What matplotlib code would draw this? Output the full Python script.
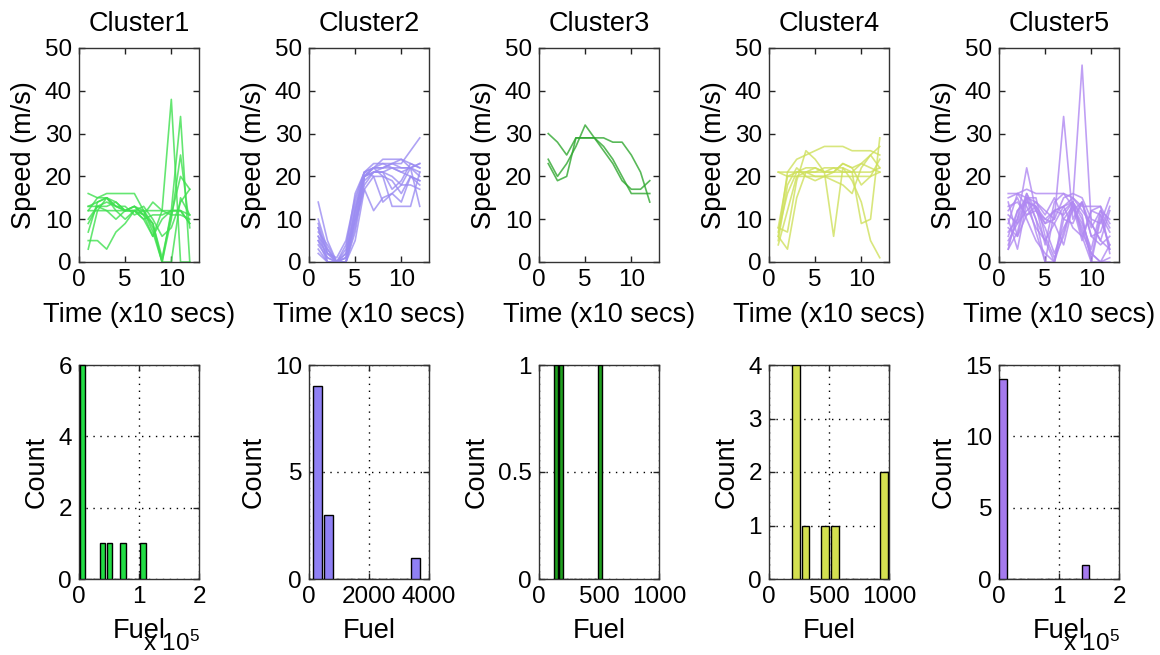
import numpy as np
import matplotlib
matplotlib.use("Agg")
import matplotlib.pyplot as plt
from matplotlib.ticker import FuncFormatter

plt.rcParams['font.family'] = ['Liberation Sans', 'DejaVu Sans']
plt.rcParams['mathtext.fontset'] = 'custom'
plt.rcParams['mathtext.rm'] = 'Liberation Sans'
plt.rcParams['mathtext.it'] = 'Liberation Sans'
plt.rcParams['mathtext.bf'] = 'Liberation Sans'

# ---------------- data ----------------
time = [1, 2, 3, 4, 5, 6, 7, 8, 9, 10, 11, 12]
cluster_names = ["Cluster1", "Cluster2", "Cluster3", "Cluster4", "Cluster5"]

speed_c1 = [
    [13, 14, 15, 13, 12, 13, 11, 6, 12, 38, 0, 0],
    [12, 15, 15, 14, 12, 12, 11, 9, 0, 12, 34, 0],
    [9, 13, 14, 13, 12, 13, 12, 7, 0, 10, 25, 8],
    [16, 15, 16, 16, 16, 16, 12, 9, 1, 11, 20, 17],
    [5, 5, 3, 7, 9, 12, 13, 10, 6, 8, 14, 17],
    [3, 12, 15, 12, 10, 12, 10, 6, 10, 12, 12, 9],
    [12, 12, 12, 12, 12, 12, 12, 12, 12, 12, 12, 11],
    [13, 13, 12, 10, 12, 13, 11, 14, 12, 11, 11, 10],
    [10, 13, 13, 14, 12, 12, 10, 11, 11, 12, 12, 9],
    [7, 14, 15, 13, 13, 11, 12, 8, 0, 0, 15, 11],
]
speed_c2 = [
    [14, 5, 0, 0, 10, 20, 22, 22, 23, 23, 26, 29],
    [10, 3, 0, 2, 12, 20, 21, 21, 22, 22, 22, 23],
    [8, 2, 1, 5, 15, 21, 22, 23, 23, 24, 23, 22],
    [7, 4, 0, 0, 7, 19, 21, 21, 20, 18, 18, 17],
    [6, 1, 0, 0, 9, 17, 12, 15, 16, 14, 20, 19],
    [5, 0, 0, 1, 10, 18, 21, 22, 22, 21, 20, 19],
    [9, 2, 0, 3, 16, 21, 23, 23, 22, 21, 22, 21],
    [4, 1, 0, 0, 5, 17, 20, 20, 19, 16, 20, 18],
    [6, 3, 0, 1, 11, 20, 22, 20, 13, 13, 13, 21],
    [3, 0, 0, 4, 14, 21, 22, 22, 23, 22, 22, 23],
    [5, 2, 0, 2, 13, 20, 21, 21, 17, 19, 23, 22],
    [8, 0, 0, 0, 8, 20, 22, 24, 24, 24, 22, 20],
    [2, 0, 0, 1, 12, 21, 20, 14, 16, 18, 22, 13],
]
speed_c3 = [
    [30, 28, 25, 29, 29, 29, 29, 28, 28, 25, 21, 14],
    [24, 20, 23, 27, 32, 29, 26, 23, 19, 17, 17, 19],
    [23, 19, 20, 29, 29, 29, 27, 24, 20, 16, 16, 16],
]
speed_c4 = [
    [21, 21, 21, 21, 21, 21, 21, 21, 21, 21, 21, 22],
    [21, 20, 20, 20, 20, 20, 20, 20, 20, 20, 20, 21],
    [6, 21, 24, 25, 26, 27, 27, 27, 26, 26, 26, 25],
    [8, 7, 19, 26, 24, 21, 6, 22, 21, 9, 10, 29],
    [6, 3, 15, 21, 22, 21, 22, 22, 19, 14, 5, 1],
    [7, 16, 21, 22, 22, 21, 21, 23, 22, 18, 20, 24],
    [4, 12, 20, 21, 21, 22, 22, 21, 21, 23, 25, 27],
    [5, 18, 22, 20, 19, 20, 21, 23, 22, 23, 22, 21],
    [8, 20, 21, 21, 20, 20, 19, 18, 16, 22, 25, 22],
]
speed_c5 = [
    [7, 10, 22, 12, 9, 10, 34, 10, 14, 6, 4, 6],
    [6, 12, 14, 13, 9, 12, 13, 14, 46, 9, 5, 3],
    [16, 16, 15, 14, 12, 10, 15, 16, 15, 10, 9, 15],
    [15, 16, 17, 16, 16, 16, 16, 15, 13, 13, 13, 9],
    [3, 7, 16, 10, 5, 0, 12, 14, 11, 0, 0, 1],
    [10, 3, 14, 13, 10, 9, 4, 13, 9, 3, 12, 8],
    [5, 9, 15, 10, 0, 12, 13, 8, 6, 0, 10, 4],
    [12, 15, 10, 5, 2, 0, 7, 14, 10, 2, 0, 0],
    [9, 16, 13, 8, 5, 9, 13, 15, 12, 9, 5, 12],
    [4, 10, 16, 12, 8, 2, 8, 12, 14, 6, 7, 13],
    [13, 14, 11, 12, 10, 12, 11, 14, 6, 12, 11, 3],
    [8, 6, 15, 15, 6, 1, 6, 14, 7, 2, 0, 4],
    [11, 9, 12, 14, 11, 15, 10, 9, 14, 8, 12, 10],
    [3, 12, 15, 7, 0, 0, 10, 13, 5, 12, 13, 2],
    [14, 6, 11, 13, 4, 14, 16, 13, 8, 1, 11, 7],
]

fuel_centers_c1 = [6000, 17200, 28400, 39600, 50800, 62000, 73200, 84400, 95600, 106800]
fuel_counts_c1 = [6, 0, 0, 1, 1, 0, 1, 0, 0, 1]
fuel_centers_c2 = [288, 650, 1012, 1374, 1736, 2098, 2460, 2822, 3184, 3546]
fuel_counts_c2 = [9, 3, 0, 0, 0, 0, 0, 0, 0, 1]
fuel_centers_c3 = [141, 182, 223, 263, 304, 345, 386, 427, 467, 508]
fuel_counts_c3 = [1, 1, 0, 0, 0, 0, 0, 0, 0, 1]
fuel_centers_c4 = [222, 304, 386, 467, 549, 631, 713, 795, 876, 958]
fuel_counts_c4 = [4, 1, 0, 1, 1, 0, 0, 0, 0, 2]
fuel_centers_c5 = [6500, 21800, 37200, 52500, 67800, 83200, 98500, 113800, 129100, 144500]
fuel_counts_c5 = [14, 0, 0, 0, 0, 0, 0, 0, 0, 1]

speeds = [speed_c1, speed_c2, speed_c3, speed_c4, speed_c5]
fuel_centers = [fuel_centers_c1, fuel_centers_c2, fuel_centers_c3, fuel_centers_c4, fuel_centers_c5]
fuel_counts = [fuel_counts_c1, fuel_counts_c2, fuel_counts_c3, fuel_counts_c4, fuel_counts_c5]

fuel_xlims = [200000, 4000, 1000, 1000, 200000]
fuel_xticks = [[0, 100000, 200000], [0, 2000, 4000], [0, 500, 1000], [0, 500, 1000], [0, 100000, 200000]]
fuel_scaled = [True, False, False, False, True]
count_ylims = [6, 10, 1, 4, 15]
count_yticks = [[0, 2, 4, 6], [0, 5, 10], [0, 0.5, 1], [0, 1, 2, 3, 4], [0, 5, 10, 15]]

line_colors = ['#3fe04f', '#9b8cf2', '#2fa72f', '#cfe05c', '#b088f2']
bar_colors = ['#22dd44', '#8f80f4', '#1f9f1f', '#d4e050', '#a57aee']

# ---------------- layout ----------------
W, H = 1160, 655
fig = plt.figure(figsize=(W / 100, H / 100), dpi=100)

ax_lefts = [79, 309, 539, 769, 999]
ax_w = 120
top_row = (48, 262)
bot_row = (365, 579)

TICK = 17.5
LAB = 19.5

gfmt = FuncFormatter(lambda v, p: "%g" % v)


def style(ax):
    for s in ax.spines.values():
        s.set_color('#333333')
        s.set_linewidth(1.0)
    ax.tick_params(direction='in', top=True, right=True, length=4,
                   width=1, color='#222222', labelsize=TICK, pad=5)


for i in range(5):
    # ---- speed profiles ----
    l = ax_lefts[i]
    ax = fig.add_axes([l / W, 1 - top_row[1] / H, ax_w / W, (top_row[1] - top_row[0]) / H])
    for s in speeds[i]:
        ax.plot(time, s, color=line_colors[i], lw=1.2, alpha=0.8)
    ax.set_xlim(0, 13)
    ax.set_ylim(0, 50)
    ax.set_xticks([0, 5, 10])
    ax.set_yticks([0, 10, 20, 30, 40, 50])
    ax.set_title(cluster_names[i], fontsize=LAB, pad=12)
    ax.set_xlabel("Time (x10 secs)", fontsize=LAB, labelpad=8)
    ax.set_ylabel("Speed (m/s)", fontsize=LAB, labelpad=6)
    style(ax)

    # ---- fuel histograms ----
    axh = fig.add_axes([l / W, 1 - bot_row[1] / H, ax_w / W, (bot_row[1] - bot_row[0]) / H])
    c = fuel_centers[i]
    bw = 0.8 * (c[1] - c[0])
    axh.bar(c, fuel_counts[i], width=bw, color=bar_colors[i],
            edgecolor='black', linewidth=1.0, zorder=3)
    axh.set_xlim(0, fuel_xlims[i])
    axh.set_ylim(0, count_ylims[i])
    axh.set_xticks(fuel_xticks[i])
    axh.set_yticks(count_yticks[i])
    axh.yaxis.set_major_formatter(gfmt)
    if fuel_scaled[i]:
        axh.xaxis.set_major_formatter(FuncFormatter(lambda v, p: "%g" % (v / 1e5)))
        axh.text(0.53, -0.30, r"x 10$^{5}$", transform=axh.transAxes, fontsize=TICK,
                 ha='left', va='center')
    else:
        axh.xaxis.set_major_formatter(gfmt)
    axh.grid(True, linestyle=(0, (1, 4)), color='black', linewidth=1.0, zorder=0)
    axh.set_axisbelow(True)
    axh.set_xlabel("Fuel", fontsize=LAB, labelpad=7)
    axh.set_ylabel("Count", fontsize=LAB, labelpad=6)
    style(axh)

fig.savefig("out.png", dpi=100)
